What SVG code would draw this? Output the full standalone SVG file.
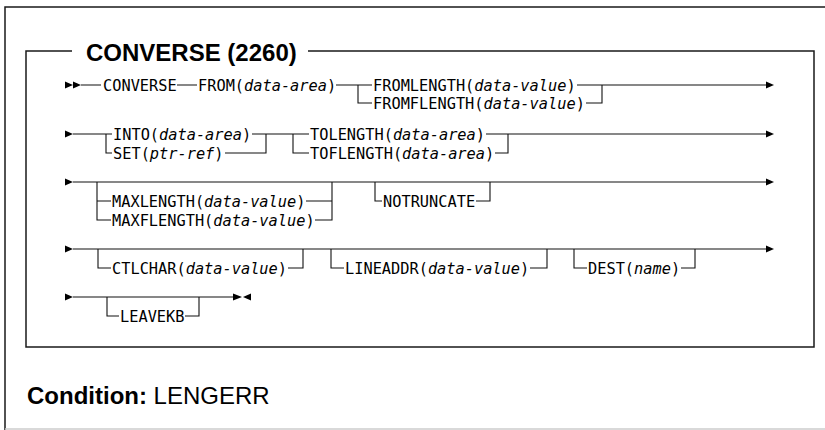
<svg xmlns="http://www.w3.org/2000/svg" width="825" height="430" viewBox="0 0 825 430">
<style>
.frame{fill:none;stroke:#1a1a1a;stroke-width:1.5}
.ln{fill:none;stroke:#111;stroke-width:1.1}
.ah{fill:#000}
.t{font-family:"DejaVu Sans Mono",monospace;font-size:15.3px;fill:#000}
.i{font-style:italic}
.title{font-family:"Liberation Sans",Arial,sans-serif;font-size:24px;font-weight:bold;fill:#000}
.cond{font-family:"Liberation Sans",Arial,sans-serif;font-size:24px;fill:#000}
</style>
<rect width="825" height="430" fill="#fff"/>
<g id="outer-frame">
<path class="frame" d="M5,430 V7 H825"/>
<path d="M5,429 H825" stroke="#ccc" stroke-width="1.5"/>
</g>
<g id="syntax-box">
<path class="frame" d="M72,51 H26 V347 H814 V51 H308"/>
<text class="title" x="86" y="61">CONVERSE (2260)</text>
</g>
<g id="connectors">
<polygon class="ah" points="65,81.5 73,85 65,88.5"/>
<polygon class="ah" points="73,81.5 81,85 73,88.5"/>
<path class="ln" d="M81,85 H101 M177,85 H197 M336,85 H372 M358,85 V103 H372 M577,85 H766 M586,103 H602 V85"/>
<polygon class="ah" points="766,81.5 774,85 766,88.5"/>
<polygon class="ah" points="65,130.5 73,134 65,137.5"/>
<path class="ln" d="M73,134 H112 M106,134 V153 H112 M252,134 H309 M225,153 H266 V134 M293,134 V153 H309 M486,134 H766 M495,153 H508 V134"/>
<polygon class="ah" points="766,130.5 774,134 766,137.5"/>
<polygon class="ah" points="65,178.5 73,182 65,185.5"/>
<path class="ln" d="M73,182 H766 M97,182 V220 H111 M97,201 H111 M306,201 H332 M315,220 H332 V182 M375,182 V201 H382 M476,201 H490 V182"/>
<polygon class="ah" points="766,178.5 774,182 766,185.5"/>
<polygon class="ah" points="65,245.5 73,249 65,252.5"/>
<path class="ln" d="M73,249 H766 M98,249 V268 H111 M288,268 H303 V249 M331,249 V268 H344 M530,268 H547 V249 M574,249 V268 H587 M681,268 H695 V249"/>
<polygon class="ah" points="766,245.5 774,249 766,252.5"/>
<polygon class="ah" points="65,293.5 73,297 65,300.5"/>
<path class="ln" d="M73,297 H233 M107,297 V316 H119 M185,316 H199 V297"/>
<polygon class="ah" points="233,293.5 242,297 233,300.5"/>
<polygon class="ah" points="251,293.5 243,297 251,300.5"/>
</g>
<g id="n-converse"><text class="t" x="103" y="91">CONVERSE</text></g>
<g id="n-from"><text class="t" x="198" y="91">FROM(<tspan class="i">data-area</tspan>)</text></g>
<g id="n-fromlength"><text class="t" x="373" y="91">FROMLENGTH(<tspan class="i">data-value</tspan>)</text></g>
<g id="n-fromflength"><text class="t" x="373" y="109">FROMFLENGTH(<tspan class="i">data-value</tspan>)</text></g>
<g id="n-into"><text class="t" x="113" y="140">INTO(<tspan class="i">data-area</tspan>)</text></g>
<g id="n-set"><text class="t" x="113" y="159">SET(<tspan class="i">ptr-ref</tspan>)</text></g>
<g id="n-tolength"><text class="t" x="310" y="140">TOLENGTH(<tspan class="i">data-area</tspan>)</text></g>
<g id="n-toflength"><text class="t" x="310" y="159">TOFLENGTH(<tspan class="i">data-area</tspan>)</text></g>
<g id="n-maxlength"><text class="t" x="112" y="207">MAXLENGTH(<tspan class="i">data-value</tspan>)</text></g>
<g id="n-maxflength"><text class="t" x="112" y="226">MAXFLENGTH(<tspan class="i">data-value</tspan>)</text></g>
<g id="n-notruncate"><text class="t" x="383" y="207">NOTRUNCATE</text></g>
<g id="n-ctlchar"><text class="t" x="112" y="274">CTLCHAR(<tspan class="i">data-value</tspan>)</text></g>
<g id="n-lineaddr"><text class="t" x="345" y="274">LINEADDR(<tspan class="i">data-value</tspan>)</text></g>
<g id="n-dest"><text class="t" x="588" y="274">DEST(<tspan class="i">name</tspan>)</text></g>
<g id="n-leavekb"><text class="t" x="120" y="322">LEAVEKB</text></g>
<g id="condition"><text class="cond" x="27" y="404"><tspan font-weight="bold">Condition:</tspan> LENGERR</text></g>
</svg>
